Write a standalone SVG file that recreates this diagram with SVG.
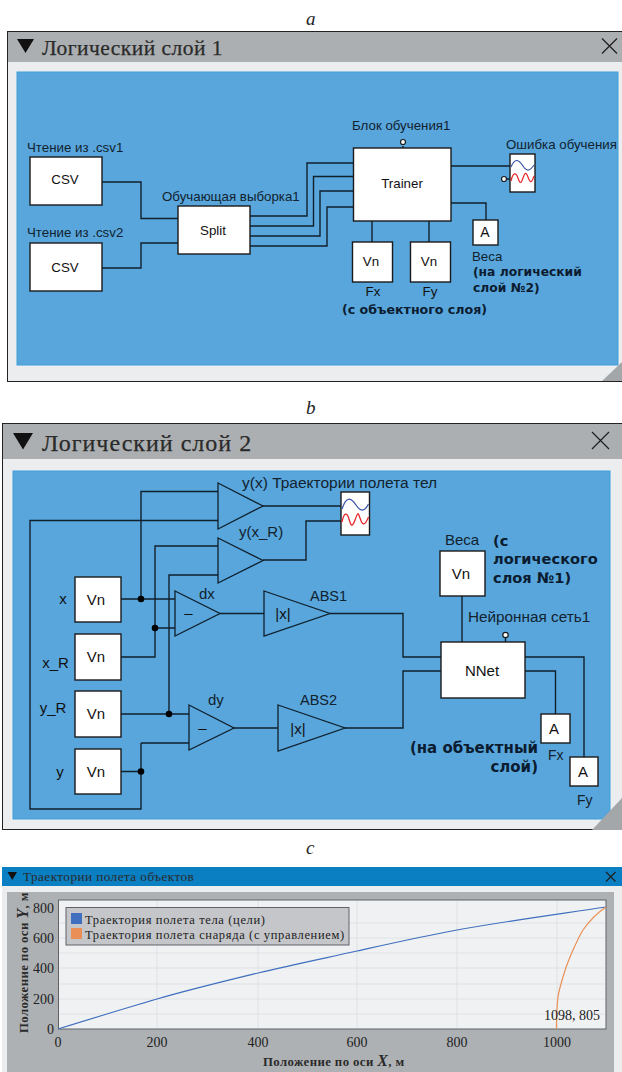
<svg xmlns="http://www.w3.org/2000/svg" width="622" height="1072" viewBox="0 0 622 1072">
<style>
.wire{fill:none;stroke:#10202c;stroke-width:1.4}
.box{fill:#fff;stroke:#1a1a1a;stroke-width:1.4}
.tri{fill:#58a6dc;stroke:#10202c;stroke-width:1.3}
.lb{font-family:"Liberation Sans",Arial,sans-serif;font-size:13.3px;fill:#12222e}
.lc{font-family:"Liberation Sans",Arial,sans-serif;font-size:15.3px;fill:#12222e}
.bx{font-family:"Liberation Sans",Arial,sans-serif;font-size:13.3px;fill:#111;text-anchor:middle}
.vn{font-size:15px}
.b{font-family:"DejaVu Sans",Verdana,sans-serif;font-weight:bold;font-size:12.3px;fill:#0c1c30}
.b2{font-family:"DejaVu Sans",Verdana,sans-serif;font-weight:bold;font-size:14.6px;fill:#0c1c30}
.cap{font-family:"Liberation Serif",serif;font-style:italic;font-size:19px;fill:#222}
.ttl{font-family:"Liberation Serif",serif;font-size:21.5px;letter-spacing:.47px;fill:#2a2a2a;stroke:#2a2a2a;stroke-width:.25}
.ax{font-family:"Liberation Serif",serif;font-size:14px;fill:#222}
.axb{font-family:"Liberation Serif",serif;font-size:12.8px;font-weight:bold;fill:#2a2a2a;letter-spacing:.4px}
.lg{font-family:"Liberation Serif",serif;font-size:12.5px;fill:#222;letter-spacing:.64px}
.grid{stroke:#dfe2e6;stroke-width:1}
.dot{fill:#000}
.pt{fill:#fff;stroke:#1a1a1a;stroke-width:1.2}
.x{stroke:#222;stroke-width:1.3;fill:none}
</style>
<rect width="622" height="1072" fill="#fff"/>
<text class="cap" x="306" y="25">a</text>
<text class="cap" x="306" y="414">b</text>
<text class="cap" x="306" y="854">c</text>

<g id="panel-a">
<rect x="7.500" y="31.500" width="620" height="350" fill="#ecedee" stroke="#222" stroke-width="1"/>
<rect x="8" y="32" width="614" height="30" fill="#acafb1"/>
<path d="M17 39h17l-8.500 14z" fill="#111"/>
<text class="ttl" x="42" y="55">Логический слой 1</text>
<path class="x" d="M602 38.500l15 15M617 38.500l-15 15"/>
<rect x="17" y="72" width="601" height="293" fill="#58a6dc" stroke="#3ea0da" stroke-width="1"/>
<path d="M602 381L622 362V381Z" fill="#a4a7a9"/>
</g>

<g id="connectors-a">
<path class="wire" d="M102 182H141V218.500H178M102 268H141V243H178"/>
<path class="wire" d="M250 216H307V163H353M250 226H313.500V176.500H353M250 236H320V191H353M250 246H327V207H353"/>
<path class="wire" d="M451 166H510M451 203H486V220M372 221V242M429 221V242M403 146V148M507 179H510"/>
</g>
<g id="csv1"><text class="lb" x="27" y="152">Чтение из .csv1</text><rect class="box" x="30" y="157" width="72" height="48"/><text class="bx" x="65" y="184">CSV</text></g>
<g id="csv2"><text class="lb" x="27" y="237">Чтение из .csv2</text><rect class="box" x="30" y="243" width="72" height="48"/><text class="bx" x="65" y="272">CSV</text></g>
<g id="split"><text class="lb" x="162" y="201">Обучающая выборка1</text><rect class="box" x="178" y="206" width="72" height="48"/><text class="bx" x="213" y="235">Split</text></g>
<g id="trainer"><text class="lb" x="352" y="130">Блок обучения1</text><circle class="pt" cx="403" cy="142" r="2.500"/><rect class="box" x="353.500" y="148" width="97.500" height="73"/><text class="bx" x="402" y="188">Trainer</text></g>
<g id="scope-a"><text class="lb" x="506" y="149">Ошибка обучения</text><rect class="box" x="510" y="154" width="25" height="38"/>
<path d="M511 167C515 157 519 160 523 166S530 171 534 165" fill="none" stroke="#3a55a8" stroke-width="1.200"/>
<path d="M511 181C513 172 516 172 518 178S521 184 523 178S526 172 528 177S531 185 534 176" fill="none" stroke="#e8262a" stroke-width="1.200"/>
<circle class="pt" cx="504" cy="179" r="2.500"/></g>
<g id="weights-out"><rect class="box" x="473" y="220" width="25" height="25"/><text class="bx" x="485" y="237" style="font-size:14px">A</text><text class="lb" x="472" y="261">Веса</text><text class="b" x="473" y="276">(на логический</text><text class="b" x="473" y="292">слой №2)</text></g>
<g id="fx-in"><rect class="box" x="352.500" y="242" width="40" height="40"/><text class="bx" x="371" y="266">Vn</text><text class="bx" x="373" y="296">Fx</text></g>
<g id="fy-in"><rect class="box" x="410.500" y="242" width="40" height="40"/><text class="bx" x="429" y="266">Vn</text><text class="bx" x="430" y="296">Fy</text></g>
<text class="b" x="342" y="314" style="font-size:12.600px">(с объектного слоя)</text>

<g id="panel-b">
<rect x="2.500" y="423.500" width="625" height="406" fill="#ecedee" stroke="#222" stroke-width="1"/>
<rect x="3" y="424" width="619" height="35" fill="#acafb1"/>
<path d="M13 433h20l-10 16.500z" fill="#111"/>
<text class="ttl" x="42" y="451" style="font-size:24px;letter-spacing:1px">Логический слой 2</text>
<path class="x" d="M592 432l17 17M609 432l-17 17"/>
<rect x="13" y="471" width="597" height="348" fill="#58a6dc" stroke="#3ea0da" stroke-width="1"/>
<path d="M592 830L622 798V830Z" fill="#a4a7a9"/>
</g>

<g id="connectors-b">
<path class="wire" d="M121 599H175M141 599V491.500H218"/>
<path class="wire" d="M121 657H155V546H218M155 628H175"/>
<path class="wire" d="M121 714H189M169 714V575H218"/>
<path class="wire" d="M121 771.500H141M141 743H189M141 743V809H30V520.500H218"/>
<path class="wire" d="M263 506H341M263 560H306V521H341"/>
<path class="wire" d="M220 613.500H264M234 728H278"/>
<path class="wire" d="M330 613.500H403V657H441M345 728H403V671H441"/>
<path class="wire" d="M525 657H584V757M525 671H555.500V714M462 596V642M505.500 638V642"/>
<circle class="dot" cx="141" cy="599" r="3.300"/><circle class="dot" cx="155" cy="628" r="3.300"/><circle class="dot" cx="169" cy="714" r="3.300"/><circle class="dot" cx="141" cy="771.500" r="3.300"/>
</g>
<g id="vn-x"><text class="bx" x="63" y="604" style="font-size:15px">x</text><rect class="box" x="75" y="577" width="46" height="45"/><text class="bx vn" x="96" y="605">Vn</text></g>
<g id="vn-xr"><text class="bx" x="55.500" y="668" style="font-size:15px">x_R</text><rect class="box" x="75" y="634" width="46" height="46"/><text class="bx vn" x="96" y="662">Vn</text></g>
<g id="vn-yr"><text class="bx" x="53" y="713" style="font-size:15px">y_R</text><rect class="box" x="75" y="691" width="46" height="46"/><text class="bx vn" x="96" y="719">Vn</text></g>
<g id="vn-y"><text class="bx" x="60" y="777" style="font-size:15px">y</text><rect class="box" x="75" y="749" width="46" height="45"/><text class="bx vn" x="96" y="777">Vn</text></g>
<g id="plot1"><path class="tri" d="M218 483L263 506L218 529Z"/><text class="lc" x="242" y="488" style="font-size:15.500px">y(x) Траектории полета тел</text></g>
<g id="plot2"><path class="tri" d="M218 538L263 560.500L218 583Z"/><text class="lc" x="239" y="537" style="font-size:15px">y(x_R)</text></g>
<g id="dx"><path class="tri" d="M175 591L220 613.500L175 636Z"/><text class="bx" x="188.500" y="618" style="font-size:15px">–</text><text class="lc" x="199" y="599" style="font-size:15px">dx</text></g>
<g id="dy"><path class="tri" d="M189 705L234 728L189 750Z"/><text class="bx" x="202.500" y="733" style="font-size:15px">–</text><text class="lc" x="208" y="705" style="font-size:15px">dy</text></g>
<g id="abs1"><path class="tri" d="M264 591L330 613.500L264 636Z"/><text class="bx" x="283" y="619" style="font-size:15px">|x|</text><text class="lc" x="310" y="601" style="font-size:14.500px">ABS1</text></g>
<g id="abs2"><path class="tri" d="M278 705L345 728L278 751Z"/><text class="bx" x="298" y="734" style="font-size:15px">|x|</text><text class="lc" x="300" y="705" style="font-size:14.500px">ABS2</text></g>
<g id="scope-b"><rect class="box" x="341" y="492" width="28.500" height="43"/>
<path d="M342 509C347 494 352 499 356 505S364 513 368.500 504" fill="none" stroke="#3a55a8" stroke-width="1.300"/>
<path d="M342 522C344 512 347 512 349 519S352 528 355 520S358 512 360 518S364 528 368.500 517" fill="none" stroke="#e8262a" stroke-width="1.300"/></g>
<g id="weights-in"><text class="lc" x="445" y="545" style="font-size:15px">Веса</text><rect class="box" x="440" y="551" width="45" height="45"/><text class="bx vn" x="461" y="579">Vn</text>
<text class="b2" x="493" y="546">(с</text><text class="b2" x="493" y="564">логического</text><text class="b2" x="493" y="583">слоя №1)</text></g>
<g id="nnet"><text class="lc" x="468" y="622">Нейронная сеть1</text><circle class="pt" cx="505.500" cy="635" r="2.700"/><rect class="box" x="441" y="642" width="84" height="56"/><text class="bx" x="482" y="676" style="font-size:15px">NNet</text></g>
<g id="out-fx"><rect class="box" x="541" y="714" width="29" height="29"/><text class="bx vn" x="554" y="734">A</text><text class="lc" x="548" y="760" style="font-size:14px">Fx</text></g>
<g id="out-fy"><rect class="box" x="570" y="757" width="28" height="29"/><text class="bx vn" x="583" y="777">A</text><text class="lc" x="577" y="805" style="font-size:14px">Fy</text></g>
<text class="b2" x="538" y="753" text-anchor="end" style="font-size:15px">(на объектный</text><text class="b2" x="538" y="772" text-anchor="end" style="font-size:15px">слой)</text>

<g id="panel-c">
<rect x="2" y="867" width="620" height="205" fill="#ecedee"/>
<rect x="2" y="867" width="620" height="19" fill="#0a7fc2"/>
<path d="M7.500 872h9.500l-4.750 8z" fill="#111"/>
<text class="axb" x="23" y="881" style="font-weight:normal;font-size:13.200px;letter-spacing:.45px">Траектории полета объектов</text>
<path class="x" d="M606 872l9.500 9.500M615.500 872l-9.500 9.500"/>
<rect x="7" y="892" width="607" height="180" fill="#aeb1b4"/>
<rect x="58.500" y="900" width="547.500" height="129" fill="#f0f1f3" stroke="#5f6366" stroke-width="1"/>
<path class="grid" d="M59 923H605M59 938H605M59 953H605M59 968H605M59 984H605M59 999H605M59 1014H605M157 901V1028M258 901V1028M357 901V1028M457 901V1028M557 901V1028"/>
<path d="M58 1029C91 1018.800 124 1008.600 157 999C190 989.400 225 981 258 973C291 965 324 958.300 357 951C390 943.700 424 936 457 930C507 921 556 914.500 606 907" fill="none" stroke="#3f6fbe" stroke-width="1.200"/>
<path d="M556.500 1029C556.500 1015 557 1005 558 997C559 990 561 984 563 977C565 970 567 964 570 957C574 948 578 938 583 930C590 920 597 913 606 907" fill="none" stroke="#ea8f56" stroke-width="1.200"/>
<rect x="66" y="907.500" width="283" height="37.500" fill="#c4c6c9" stroke="#5f6366" stroke-width="1"/>
<rect x="71" y="913" width="11" height="11" fill="#3f6fbe"/>
<rect x="71" y="928" width="11" height="11" fill="#ea8f56"/>
<text class="lg" x="85" y="924">Траектория полета тела (цели)</text>
<text class="lg" x="85" y="939">Траектория полета снаряда (с управлением)</text>
<text class="ax" x="54" y="913" text-anchor="end">800</text>
<text class="ax" x="54" y="943" text-anchor="end">600</text>
<text class="ax" x="54" y="973" text-anchor="end">400</text>
<text class="ax" x="54" y="1004" text-anchor="end">200</text>
<text class="ax" x="54" y="1034" text-anchor="end">0</text>
<text class="ax" x="58" y="1047" text-anchor="middle">0</text>
<text class="ax" x="157" y="1047" text-anchor="middle">200</text>
<text class="ax" x="258" y="1047" text-anchor="middle">400</text>
<text class="ax" x="357" y="1047" text-anchor="middle">600</text>
<text class="ax" x="457" y="1047" text-anchor="middle">800</text>
<text class="ax" x="557" y="1047" text-anchor="middle">1000</text>
<text class="ax" x="544" y="1020">1098, 805</text>
<text class="axb" x="263" y="1066">Положение по оси <tspan font-style="italic" font-size="16">X</tspan>, м</text>
<text class="axb" transform="translate(28 1033) rotate(-90)">Положение по оси <tspan font-style="italic" font-size="16">Y</tspan>, м</text>
</g>
</svg>
